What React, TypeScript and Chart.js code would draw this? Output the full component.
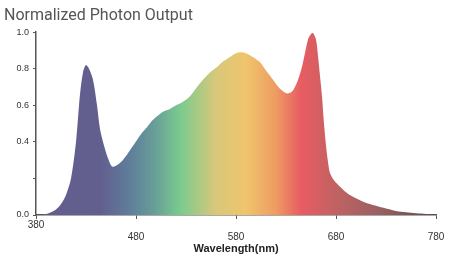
import React, { useEffect, useRef } from "react";
import { Chart, registerables } from "chart.js";

Chart.register(...registerables);

const wavelengths = [380, 385, 390, 395, 400, 405, 410, 415, 420, 424, 427, 430, 433, 437, 441, 444, 448, 452, 456, 460, 465, 471, 476, 481, 486, 491, 496, 501, 507, 514, 520, 527, 534, 541, 547, 554, 561, 567, 574, 580, 586, 592, 598, 604, 610, 617, 624, 631, 636, 641, 645, 648, 652, 655, 657, 660, 662, 664, 666, 668, 670, 672, 674, 678, 684, 690, 697, 705, 712, 720, 730, 740, 750, 760, 770, 777, 780];
const intensity = [0, 0, 0.005, 0.015, 0.03, 0.06, 0.11, 0.2, 0.4, 0.66, 0.78, 0.82, 0.8, 0.74, 0.6, 0.47, 0.38, 0.31, 0.265, 0.27, 0.29, 0.33, 0.37, 0.41, 0.45, 0.48, 0.515, 0.54, 0.565, 0.58, 0.6, 0.62, 0.65, 0.7, 0.74, 0.78, 0.81, 0.84, 0.865, 0.885, 0.89, 0.88, 0.86, 0.835, 0.79, 0.74, 0.69, 0.665, 0.675, 0.725, 0.79, 0.86, 0.96, 0.99, 0.995, 0.96, 0.87, 0.76, 0.65, 0.5, 0.38, 0.29, 0.23, 0.19, 0.155, 0.125, 0.1, 0.078, 0.063, 0.05, 0.035, 0.022, 0.015, 0.01, 0.006, 0.003, 0];

const xTicks = [380, 480, 580, 680, 780];
const yTicks = [0, 0.2, 0.4, 0.6, 0.8, 1.0];
const yTickLabels = ["0.0", "", "0.4", "0.6", "0.8", "1.0"];

const gradientNm = [380, 445, 475, 500, 524, 560, 590, 620, 645, 680, 724, 780];
const gradientColors = ["#635d8d", "#625f8f", "#5f7f9a", "#69a098", "#7acb8e", "#d8c87a", "#efc56c", "#ee9c62", "#e85c62", "#c06262", "#9a6060", "#604a4a"];

export default function App() {
  const ref = useRef<HTMLCanvasElement>(null);
  useEffect(() => {
    const canvas = ref.current!;
    const chart = new Chart(canvas, {
      type: "line",
      data: {
        datasets: [
          {
            data: wavelengths.map((w, i) => ({ x: w, y: intensity[i] })),
            fill: "origin",
            borderWidth: 0,
            pointRadius: 0,
            tension: 0.3,
            backgroundColor: (ctx: any) => {
              const c = ctx.chart;
              const area = c.chartArea;
              if (!area) return "#888";
              const xs = c.scales.x;
              const g = c.ctx.createLinearGradient(xs.getPixelForValue(380), 0, xs.getPixelForValue(780), 0);
              gradientNm.forEach((nm, i) => g.addColorStop((nm - 380) / 400, gradientColors[i]));
              return g;
            },
            borderColor: "rgba(0,0,0,0)",
          },
        ],
      },
      options: {
        animation: false,
        responsive: false,
        maintainAspectRatio: false,
        layout: { padding: { left: 4, right: 18, top: 0, bottom: 0 } },
        plugins: {
          legend: { display: false },
          tooltip: { enabled: false },
          title: {
            display: true,
            text: "Normalized Photon Output",
            align: "start",
            color: "#555",
            font: { family: "Roboto", size: 16, weight: "normal" },
            padding: { top: 6, bottom: 7 },
          },
        },
        scales: {
          x: {
            type: "linear",
            min: 380,
            max: 780,
            afterBuildTicks: (s: any) => {
              s.ticks = xTicks.map((v) => ({ value: v }));
            },
            afterFit: (s: any) => {
              s.height = 41;
            },
            ticks: {
              autoSkip: false,
              maxRotation: 0,
              padding: 0,
              color: "#333",
              font: { family: "Liberation Sans", size: 10 },
              callback: (v: any) => (v === 380 ? String(v) : ["", String(v)]),
            },
            grid: { drawOnChartArea: false, tickLength: 4, color: "#555" },
            border: { color: "#555", width: 1.5 },
            title: {
              display: true,
              text: "Wavelength(nm)",
              color: "#222",
              font: { family: "Liberation Sans", size: 11, weight: "bold" },
              padding: { top: 0, bottom: 0 },
            },
          },
          y: {
            min: 0,
            max: 1,
            afterBuildTicks: (s: any) => {
              s.ticks = yTicks.map((v) => ({ value: v }));
            },
            afterFit: (s: any) => {
              s.width = 32;
            },
            ticks: {
              autoSkip: false,
              padding: 4,
              color: "#333",
              font: { family: "Liberation Sans", size: 9 },
              callback: (_v: any, i: number) => yTickLabels[i],
            },
            grid: { drawOnChartArea: false, tickLength: 3, color: "#555" },
            border: { color: "#555", width: 1.5 },
          },
        },
      },
    });
    return () => chart.destroy();
  }, []);
  return (
    <div style={{ position: "absolute", left: 0, top: 0, width: 454, height: 256, background: "#fff" }}>
      <canvas ref={ref} width={454} height={256} style={{ width: 454, height: 256 }} />
    </div>
  );
}
